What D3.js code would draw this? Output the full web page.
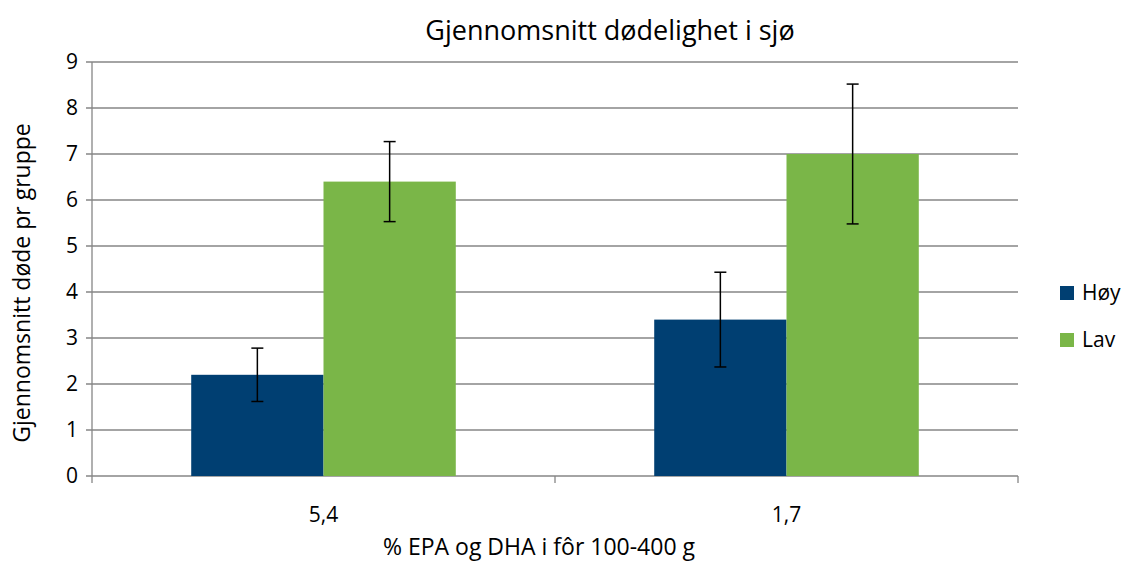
<!DOCTYPE html>
<html><head><meta charset="utf-8">
<script src="https://cdn.jsdelivr.net/npm/d3@7"></script>
<style>body{margin:0;background:#fff}text{font-family:"Open Sans",sans-serif;fill:#000}</style>
</head><body><div id="chart"></div>
<script>
const categories = ["5,4", "1,7"];
const series = ["Høy", "Lav"];
const values = [[2.2, 6.4], [3.4, 7.0]];
const errors = [[0.58, 0.87], [1.03, 1.52]];
const colors = ["#003f72", "#7ab648"];
const yTicks = [0,1,2,3,4,5,6,7,8,9];

const W = 1128, H = 563;
const m = {left: 92, right: 110, top: 62, bottom: 87};
const svg = d3.select("#chart").append("svg").attr("width", W).attr("height", H);

const x = d3.scaleBand().domain(categories).range([m.left, W - m.right]).paddingInner(0).paddingOuter(0);
const x1 = d3.scaleBand().domain(series).range([0, x.bandwidth()]).paddingInner(0).paddingOuter(0.75);
const y = d3.scaleLinear().domain([0, 9]).range([H - m.bottom, m.top]);

const g = svg.append("g");
g.selectAll("line.grid").data(yTicks).enter().append("line")
  .attr("x1", m.left - 6).attr("x2", W - m.right)
  .attr("y1", d => y(d)).attr("y2", d => y(d))
  .attr("stroke", "#868686").attr("stroke-width", 1.3);
g.append("line").attr("x1", m.left).attr("x2", m.left).attr("y1", y(9)).attr("y2", y(0))
  .attr("stroke", "#868686").attr("stroke-width", 1.3);
g.selectAll("line.xt").data([0,1,2]).enter().append("line")
  .attr("x1", i => m.left + i * x.bandwidth()).attr("x2", i => m.left + i * x.bandwidth())
  .attr("y1", y(0)).attr("y2", y(0) + 7).attr("stroke", "#868686").attr("stroke-width", 1.3);
g.selectAll("text.yl").data(yTicks).enter().append("text")
  .attr("x", m.left - 14).attr("y", d => y(d)).attr("dy", "0.35em")
  .attr("text-anchor", "end").attr("font-size", 21).text(d => d);
g.selectAll("text.xl").data(categories).enter().append("text")
  .attr("x", d => x(d) + x.bandwidth() / 2).attr("y", y(0) + 46)
  .attr("text-anchor", "middle").attr("font-size", 21).text(d => d);

categories.forEach((c, ci) => {
  series.forEach((s, si) => {
    const v = values[ci][si], e = errors[ci][si];
    const bx = x(c) + x1(s);
    svg.append("rect").attr("x", bx).attr("width", x1.bandwidth())
      .attr("y", y(v)).attr("height", y(0) - y(v)).attr("fill", colors[si]);
    const cx = bx + x1.bandwidth() / 2;
    const eg = svg.append("g").attr("stroke", "#000").attr("stroke-width", 1.5);
    eg.append("line").attr("x1", cx).attr("x2", cx).attr("y1", y(v + e)).attr("y2", y(v - e));
    [v + e, v - e].forEach(t => eg.append("line").attr("x1", cx - 6).attr("x2", cx + 6).attr("y1", y(t)).attr("y2", y(t)));
  });
});

svg.append("text").attr("x", 610).attr("y", 40)
  .attr("text-anchor", "middle").attr("font-size", 27).text("Gjennomsnitt dødelighet i sjø");
svg.append("text").attr("x", 539).attr("y", 555)
  .attr("text-anchor", "middle").attr("font-size", 23).text("% EPA og DHA i fôr 100-400 g");
svg.append("text").attr("transform", `translate(30,283) rotate(-90)`)
  .attr("text-anchor", "middle").attr("font-size", 23).text("Gjennomsnitt døde pr gruppe");

series.forEach((s, i) => {
  const ly = 293 + i * 47;
  svg.append("rect").attr("x", 1060).attr("y", ly - 7).attr("width", 14).attr("height", 14).attr("fill", colors[i]);
  svg.append("text").attr("x", 1082).attr("y", ly).attr("dy", "0.35em").attr("font-size", 21).text(s);
});
</script></body></html>
